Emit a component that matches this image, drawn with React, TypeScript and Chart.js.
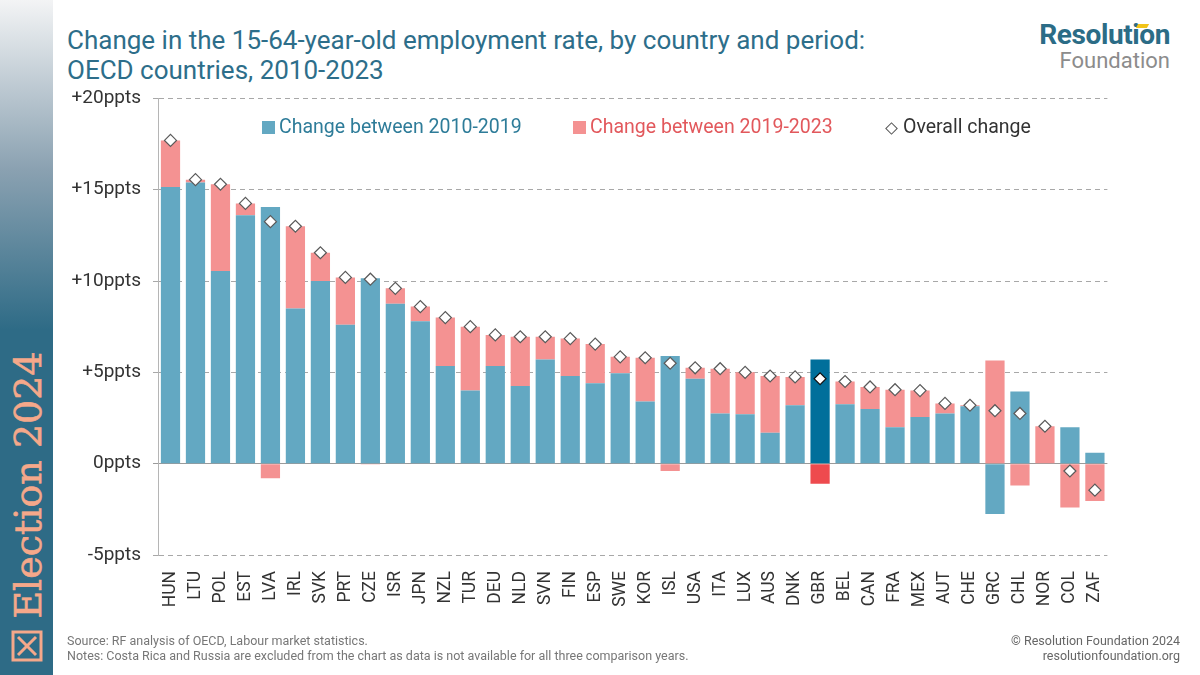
import React, { useEffect, useRef } from "react";
import { Chart, registerables } from "chart.js";

Chart.register(...registerables);

const countries = [
  "HUN", "LTU", "POL", "EST", "LVA", "IRL", "SVK", "PRT", "CZE", "ISR",
  "JPN", "NZL", "TUR", "DEU", "NLD", "SVN", "FIN", "ESP", "SWE", "KOR",
  "ISL", "USA", "ITA", "LUX", "AUS", "DNK", "GBR", "BEL", "CAN", "FRA",
  "MEX", "AUT", "CHE", "GRC", "CHL", "NOR", "COL", "ZAF",
];

const change2010to2019 = [
  15.15, 15.4, 10.55, 13.6, 14.05, 8.5, 10.0, 7.6, 10.15, 8.75,
  7.8, 5.35, 4.0, 5.35, 4.25, 5.7, 4.8, 4.4, 4.95, 3.4,
  5.9, 4.65, 2.75, 2.7, 1.7, 3.2, 5.7, 3.25, 3.0, 2.0,
  2.55, 2.75, 3.15, -2.75, 3.95, 0.0, 2.0, 0.6,
];

const change2019to2023 = [
  2.55, 0.15, 4.75, 0.65, -0.8, 4.5, 1.55, 2.6, -0.05, 0.85,
  0.8, 2.65, 3.5, 1.7, 2.7, 1.25, 2.05, 2.15, 0.9, 2.4,
  -0.4, 0.6, 2.45, 2.3, 3.1, 1.55, -1.1, 1.25, 1.2, 2.05,
  1.45, 0.55, 0.05, 5.65, -1.2, 2.05, -2.4, -2.05,
];

const overallChange = [
  17.7, 15.55, 15.3, 14.25, 13.25, 13.0, 11.55, 10.2, 10.1, 9.6,
  8.6, 8.0, 7.5, 7.05, 6.95, 6.95, 6.85, 6.55, 5.85, 5.8,
  5.5, 5.25, 5.2, 5.0, 4.8, 4.75, 4.65, 4.5, 4.2, 4.05,
  4.0, 3.3, 3.2, 2.9, 2.75, 2.05, -0.4, -1.45,
];

const yTicks = [-5, 0, 5, 10, 15, 20];

const highlight = "GBR";
const BLUE = "#63a8c2";
const PINK = "#f49292";
const BLUE_HI = "#006f9b";
const RED_HI = "#ee4a4e";
const TEAL = "#2d6e8a";

const FONT = "Roboto, 'Noto Sans', sans-serif";

export default function App() {
  const canvasRef = useRef<HTMLCanvasElement | null>(null);

  useEffect(() => {
    if (!canvasRef.current) return;
    Chart.defaults.font.family = FONT;
    const chart = new Chart(canvasRef.current, {
      type: "bar",
      data: {
        labels: countries,
        datasets: [
          {
            type: "line",
            label: "Overall change",
            data: overallChange,
            showLine: false,
            pointStyle: "rectRot",
            pointRadius: 6,
            pointHoverRadius: 6,
            pointBackgroundColor: "#ffffff",
            pointBorderColor: countries.map((c) => (c === highlight ? "#111111" : "#5a5a5a")),
            pointBorderWidth: 1.2,
            stack: "overall",
            order: 0,
          } as any,
          {
            type: "bar",
            label: "Change between 2010-2019",
            data: change2010to2019,
            backgroundColor: countries.map((c) => (c === highlight ? BLUE_HI : BLUE)),
            stack: "bars",
            order: 1,
            categoryPercentage: 1,
            barPercentage: 0.77,
          },
          {
            type: "bar",
            label: "Change between 2019-2023",
            data: change2019to2023,
            backgroundColor: countries.map((c) => (c === highlight ? RED_HI : PINK)),
            stack: "bars",
            order: 1,
            categoryPercentage: 1,
            barPercentage: 0.77,
          },
        ],
      },
      options: {
        animation: false,
        responsive: true,
        maintainAspectRatio: false,
        layout: { padding: { top: 20, right: 3, left: 0, bottom: 0 } },
        plugins: {
          legend: { display: false },
          tooltip: { enabled: false },
        },
        scales: {
          x: {
            stacked: true,
            grid: { display: false },
            border: { display: false },
            ticks: {
              autoSkip: false,
              maxRotation: 90,
              minRotation: 90,
              padding: 8,
              color: "#333333",
              font: { size: 17.5, family: FONT },
            },
            afterFit: (scale: any) => {
              scale.height = 80;
            },
          },
          y: {
            stacked: true,
            min: -5,
            max: 20,
            afterBuildTicks: (scale: any) => {
              scale.ticks = yTicks.map((v) => ({ value: v }));
            },
            afterFit: (scale: any) => {
              scale.width = 98;
            },
            grid: {
              color: (ctx: any) => (ctx.tick && ctx.tick.value === 0 ? "#9a9a9a" : "#a8a8a8"),
              lineWidth: 1,
              tickLength: 5,
            },
            border: {
              display: true,
              color: "#b5b5b5",
              width: 1,
              dash: (ctx: any) => (ctx.tick && ctx.tick.value === 0 ? [] : [5, 4]),
            } as any,
            ticks: {
              padding: 12,
              color: "#333333",
              font: { size: 19, family: FONT },
              callback: (v: any) => (Number(v) > 0 ? `+${v}ppts` : `${v}ppts`),
            },
          },
        },
      },
    });
    return () => chart.destroy();
  }, []);

  const legendText: React.CSSProperties = {
    position: "absolute",
    top: 115,
    fontSize: 19.5,
    fontFamily: FONT,
    lineHeight: "23px",
    whiteSpace: "nowrap",
  };

  return (
    <div
      style={{
        position: "absolute",
        left: 0,
        top: 0,
        width: 1200,
        height: 675,
        background: "#ffffff",
        overflow: "hidden",
        fontFamily: FONT,
      }}
    >
      {/* side strip */}
      <div
        style={{
          position: "absolute",
          left: 0,
          top: 0,
          width: 53,
          height: 675,
          background: "linear-gradient(to bottom, #f3f4f5 0px, #8aa1b1 170px, #2e6b86 330px, #2e6b86 675px)",
        }}
      />
      <div
        style={{
          position: "absolute",
          left: 28,
          top: 485,
          transform: "translate(-50%, -50%) rotate(-90deg)",
          color: "#f5a88a",
          fontFamily: "'DejaVu Serif', serif",
          fontSize: 38,
          whiteSpace: "nowrap",
          lineHeight: "44px",
          WebkitTextStroke: "0.6px #f5a88a",
        }}
      >
        Election 2024
      </div>
      <svg
        width={32}
        height={32}
        style={{ position: "absolute", left: 11, top: 630 }}
        viewBox="0 0 32 32"
      >
        <rect x={2} y={2} width={28} height={28} fill="none" stroke="#f5a88a" strokeWidth={3} />
        <line x1={7} y1={7} x2={25} y2={25} stroke="#f5a88a" strokeWidth={3} />
        <line x1={25} y1={7} x2={7} y2={25} stroke="#f5a88a" strokeWidth={3} />
      </svg>

      {/* title */}
      <div
        style={{
          position: "absolute",
          left: 67,
          top: 25,
          color: TEAL,
          fontSize: 26,
          lineHeight: "30px",
          fontFamily: FONT,
          fontWeight: 400,
          whiteSpace: "nowrap",
        }}
      >
        Change in the 15-64-year-old employment rate, by country and period:
        <br />
        OECD countries, 2010-2023
      </div>

      {/* logo */}
      <div
        style={{
          position: "absolute",
          right: 30,
          top: 20,
          textAlign: "right",
          fontFamily: FONT,
        }}
      >
        <div style={{ color: "#2b6c86", fontWeight: 700, fontSize: 28, lineHeight: "30px", letterSpacing: -0.4 }}>
          Resolution
        </div>
        <div style={{ color: "#8c8c8c", fontSize: 22, lineHeight: "22px" }}>Foundation</div>
      </div>
      <div
        style={{
          position: "absolute",
          left: 1137,
          top: 24,
          width: 11,
          height: 4,
          background: "#f2c418",
          transform: "skewX(-30deg)",
        }}
      />

      {/* chart */}
      <div style={{ position: "absolute", left: 60, top: 75, width: 1064, height: 560 }}>
        <canvas ref={canvasRef} />
      </div>

      {/* legend */}
      <div style={{ position: "absolute", left: 262, top: 121, width: 13, height: 13, background: BLUE }} />
      <div style={{ ...legendText, left: 279, color: "#2e7c99" }}>Change between 2010-2019</div>
      <div style={{ position: "absolute", left: 573, top: 121, width: 13, height: 13, background: PINK }} />
      <div style={{ ...legendText, left: 590, color: "#e2585c" }}>Change between 2019-2023</div>
      <div
        style={{
          position: "absolute",
          left: 887,
          top: 124,
          width: 7,
          height: 7,
          border: "1.2px solid #555555",
          transform: "rotate(45deg)",
          background: "#ffffff",
        }}
      />
      <div style={{ ...legendText, left: 903, color: "#333333" }}>Overall change</div>

      {/* footer */}
      <div
        style={{
          position: "absolute",
          left: 67,
          top: 633,
          color: "#777777",
          fontSize: 12.5,
          lineHeight: "15px",
          fontFamily: FONT,
        }}
      >
        Source: RF analysis of OECD, Labour market statistics.
        <br />
        Notes: Costa Rica and Russia are excluded from the chart as data is not available for all three comparison years.
      </div>
      <div
        style={{
          position: "absolute",
          right: 20,
          top: 633,
          color: "#666666",
          fontSize: 12.5,
          lineHeight: "15px",
          textAlign: "right",
          fontFamily: FONT,
        }}
      >
        © Resolution Foundation 2024
        <br />
        resolutionfoundation.org
      </div>
    </div>
  );
}
